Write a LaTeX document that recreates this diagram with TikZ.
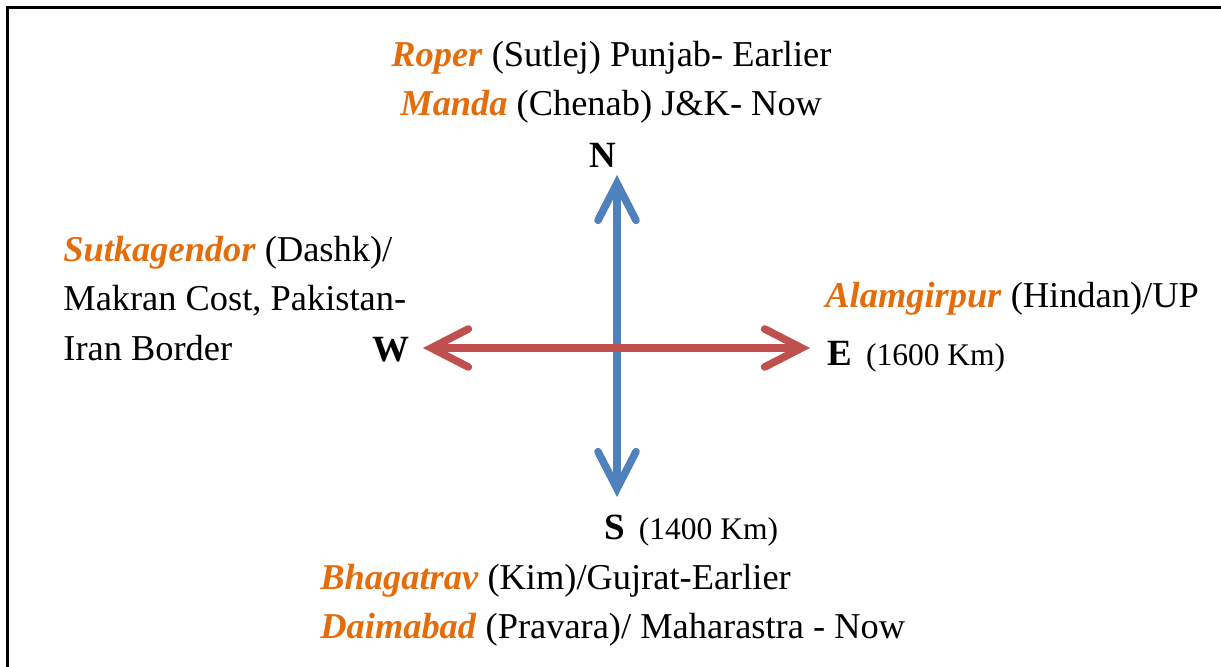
\documentclass[tikz,border=0pt]{standalone}
\usepackage{fontspec}
\setmainfont{Liberation Serif}
\usetikzlibrary{arrows.meta}
\definecolor{siteorange}{RGB}{228,108,10}
\definecolor{arrowred}{RGB}{192,80,77}
\definecolor{arrowblue}{RGB}{79,129,189}
\newcommand{\site}[1]{\textcolor{siteorange}{\textbf{\textit{#1}}}}
\newcommand{\smallkm}[1]{{\fontsize{15.75}{18}\selectfont #1}}
\tikzset{
  lbl/.style={anchor=base west, inner sep=0pt, font=\fontsize{18.2}{22}\selectfont},
  dirl/.style={anchor=base west, inner sep=0pt, font=\fontsize{18.5}{22}\selectfont\bfseries},
  axis/.style={line width=3.8pt, line cap=round,
    {Straight Barb[length=18.5pt,width=19pt,line cap=round]}-{Straight Barb[length=18.5pt,width=19pt,line cap=round]}},
  frame/.style={line width=1.5pt, draw=black}
}
\begin{document}
\begin{tikzpicture}[x=0.5pt, y=-0.5pt]
\useasboundingbox (0,0) rectangle (1221,667);
\clip (0,0) rectangle (1221,667);
\draw[frame] (7.5,700) -- (7.5,7.5) -- (1240,7.5);

% texts
\node[lbl] (roper) at (391,67) {\site{Roper} (Sutlej) Punjab- Earlier};
\node[lbl] (manda) at (400,116) {\site{Manda} (Chenab) J\&K- Now};
\node[dirl] (N) at (589,168) {N};

\node[lbl] (sutk) at (63,262) {\site{Sutkagendor} (Dashk)/};
\node[lbl] (makran) at (63,311) {Makran Cost, Pakistan-};
\node[lbl] (iran) at (63,361) {Iran Border};
\node[dirl] (W) at (372,362) {W};

\node[lbl] (alam) at (825,308) {\site{Alamgirpur} (Hindan)/UP};
\node[dirl] (E) at (827,366) {E\hspace{7pt}\mdseries\smallkm{(1600 Km)}};

\node[dirl] (S) at (604,540) {S\hspace{7pt}\mdseries\smallkm{(1400 Km)}};
\node[lbl] (bhag) at (320,590) {\site{Bhagatrav} (Kim)/Gujrat-Earlier};
\node[lbl] (daim) at (320,639) {\site{Daimabad} (Pravara)/ Maharastra - Now};

% arrow end points
\coordinate (nt) at (617,175);
\coordinate (st) at (617,497);
\coordinate (wt) at (423,348);
\coordinate (et) at (810,348);

\draw[axis, draw=arrowblue] (nt) -- (st);
\draw[axis, draw=arrowred] (wt) -- (et);
\end{tikzpicture}
\end{document}
